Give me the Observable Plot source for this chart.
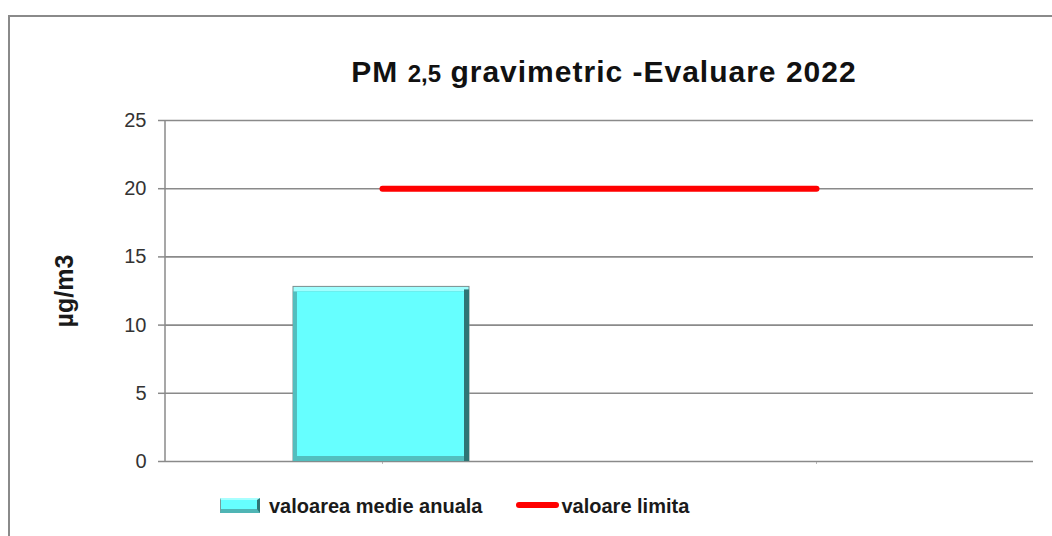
<!DOCTYPE html>
<html>
<head>
<meta charset="utf-8">
<script src="https://cdn.jsdelivr.net/npm/d3@7"></script>
<script src="https://cdn.jsdelivr.net/npm/@observablehq/plot@0.6"></script>
<style>
  html, body { margin: 0; padding: 0; background: #fff; overflow: hidden; }
  body { width: 1052px; height: 536px; position: relative; font-family: "Liberation Sans", Arial, sans-serif; }
  #frame { position: absolute; left: 8px; top: 15px; width: 1100px; height: 600px; border: 2px solid #8a8a8a; box-sizing: border-box; }
  #title { margin-left: 294px; width: 600px; text-align: center; height: 80px; box-sizing: border-box; padding-top: 40px;
           font-size: 30px; line-height: 30px; font-weight: bold; color: #111; white-space: nowrap; letter-spacing: 1px; }
  #title .sub { font-size: 24px; letter-spacing: 0; }
  #chart svg { display: block; overflow: visible; }
  #chart [aria-label="y-axis"] line, #chart [aria-label="y-axis tick"], #chart [aria-label="y-axis tick"] path { stroke: #8a8a8a; stroke-width: 1.5px; }
  #chart [aria-label="x-axis"] line, #chart [aria-label="x-axis tick"], #chart [aria-label="x-axis tick"] path { stroke: #bbb; }
  #legend { display: flex; align-items: center; height: 36px; padding-left: 210px; font-size: 20px; font-weight: bold; color: #1a1a1a; }
  #legend .sw1 { width: 40px; height: 15px; box-sizing: border-box; background: #66ffff;
                 border: 1px solid #7a9a9a; border-top: 2px solid #a8ffff; border-bottom: 4px solid #4fb5b5; border-right: 3px solid #2f7575; }
  #legend .sw2 { width: 43px; height: 6px; background: #ff0000; border-radius: 3px; margin-left: 34px; }
  #legend .t1 { margin-left: 9px; padding-top: 3px; }
  #legend .t2 { margin-left: 2px; padding-top: 3px; }
</style>
</head>
<body>
<div id="frame">
  <div id="title">PM <span class="sub">2,5</span> gravimetric -Evaluare 2022</div>
  <div id="chart"></div>
  <div id="legend"><div class="sw1"></div><span class="t1">valoarea medie anuala</span><div class="sw2"></div><span class="t2">valoare limita</span></div>
</div>
<script>
// ---- data ----
const categories = ["1", "2"];
const meanValues = [12.8, null];       // valoarea medie anuala
const limitValues = [20, 20];          // valoare limita
const yTicks = [0, 5, 10, 15, 20, 25];
const yLabel = "µg/m3";

const barData = categories.map((c, i) => ({cat: c, v: meanValues[i]})).filter(d => d.v != null);
const lineData = categories.map((c, i) => ({cat: c, v: limitValues[i]}));

const leftAxisLine = (index, scales, values, dimensions) => {
  const ns = "http://www.w3.org/2000/svg";
  const g = document.createElementNS(ns, "g");
  if (!dimensions) return g;
  const {marginLeft, marginTop, marginBottom, height} = dimensions;
  const l = document.createElementNS(ns, "line");
  l.setAttribute("x1", marginLeft); l.setAttribute("x2", marginLeft);
  l.setAttribute("y1", marginTop); l.setAttribute("y2", height - marginBottom);
  l.setAttribute("stroke", "#8a8a8a"); l.setAttribute("stroke-width", 1.5);
  g.appendChild(l);
  return g;
};

const bx = {x: "cat", y: "v", insetLeft: 128, insetRight: 130};

const chart = Plot.plot({
  width: 1042,
  height: 390,
  marginLeft: 155,
  marginRight: 19,
  marginTop: 23,
  marginBottom: 26,
  style: {fontSize: "20px", fontFamily: "'Liberation Sans', Arial, sans-serif", color: "#333", background: "transparent"},
  x: {domain: categories, padding: 0, tickSize: 3, tickFormat: () => "", label: null},
  y: {domain: [0, 25], ticks: yTicks, tickSize: 7, tickPadding: 12, label: null},
  marks: [
    Plot.ruleY(yTicks, {stroke: "#8a8a8a", strokeWidth: 1.6}),
    leftAxisLine,
    // bevelled bar: light top edge, medium left/bottom edges, dark right edge, face
    Plot.barY(barData, {...bx, fill: "#a0ffff", stroke: "#7a8f8f", strokeWidth: 1}),
    Plot.barY(barData, {...bx, insetTop: 5, fill: "#52bebe"}),
    Plot.barY(barData, {...bx, insetLeft: 299, insetTop: 3, fill: "#2f7575"}),
    Plot.barY(barData, {...bx, insetLeft: 132, insetRight: 135, insetTop: 5, insetBottom: 5, fill: "#66ffff"}),
    Plot.lineY(lineData, {x: "cat", y: "v", stroke: "#ff0000", strokeWidth: 6, strokeLinecap: "round"}),
    Plot.text([yLabel], {text: d => d, frameAnchor: "left", textAnchor: "middle", dx: -101, rotate: -90, fontWeight: "bold", fontSize: 25, fill: "#1a1a1a"})
  ]
});
document.getElementById("chart").appendChild(chart);
</script>
</body>
</html>
